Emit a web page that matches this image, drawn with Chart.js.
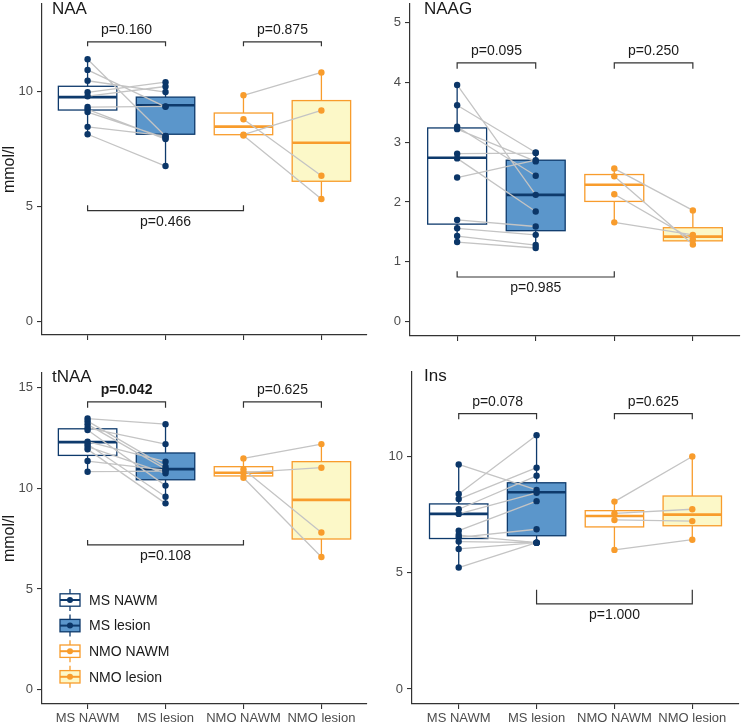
<!DOCTYPE html>
<html>
<head>
<meta charset="utf-8">
<script src="https://cdn.jsdelivr.net/npm/chart.js@4"></script>
<style>
  body { margin: 0; background: #fff; }
  #wrap { position: relative; width: 744px; height: 722px; }
  .panel { position: absolute; }
</style>
</head>
<body>
<div id="wrap">
  <div class="panel" style="left:0;top:0;width:372px;height:350px"><canvas id="c1"></canvas></div>
  <div class="panel" style="left:372px;top:0;width:372px;height:350px"><canvas id="c2"></canvas></div>
  <div class="panel" style="left:0;top:350px;width:372px;height:372px"><canvas id="c3"></canvas></div>
  <div class="panel" style="left:372px;top:350px;width:372px;height:372px"><canvas id="c4"></canvas></div>
</div>
<script>
const grupos = ["MS NAWM", "MS lesion", "NMO NAWM", "NMO lesion"]
const metabolitos = ["NAA", "NAAG", "tNAA", "Ins"]

// valores por paciente, mismo orden en NAWM y lesion (se unen con lineas)
const naaMsNawm = [11.39, 10.93, 10.46, 9.96, 9.79, 9.32, 9.22, 9.10, 8.46, 8.14]
const naaMsLesion = [8.05, 9.33, 9.97, 10.40, 10.21, 9.35, 7.93, 7.98, 8.07, 6.76]
const naaNmoNawm = [9.83, 8.79, 8.12, 8.08]
const naaNmoLesion = [10.82, 6.34, 9.17, 5.33]
// [min, q1, mediana, q3, max] de cada grupo
const naaCajas = [[8.14, 9.19, 9.75, 10.22, 11.39], [6.76, 8.14, 9.40, 9.75, 10.40], [8.08, 8.12, 8.47, 9.06, 9.83], [5.33, 6.10, 7.77, 9.60, 10.82]]
const naaPvalores = ["p=0.160", "p=0.875", "p=0.466"]
const naaBrackets = [[0, 1, 12.15, 11.96], [2, 3, 12.15, 11.96], [0, 2, 4.83, 5.06]]

const naagMsNawm = [3.96, 3.62, 3.26, 3.22, 2.81, 2.73, 2.41, 1.70, 1.56, 1.43, 1.33]
const naagMsLesion = [2.12, 2.83, 2.44, 2.68, 2.82, 1.84, 2.70, 1.59, 1.45, 1.28, 1.23]
const naagNmoNawm = [2.56, 2.43, 2.13, 1.66]
const naagNmoLesion = [1.86, 1.29, 1.37, 1.45]
const naagCajas = [[1.33, 1.63, 2.74, 3.24, 3.96], [1.23, 1.52, 2.12, 2.70, 2.83], [1.64, 2.01, 2.29, 2.46, 2.56], [1.29, 1.35, 1.42, 1.57, 1.86]]
const naagPvalores = ["p=0.095", "p=0.250", "p=0.985"]
const naagBrackets = [[0, 1, 4.33, 4.23], [2, 3, 4.33, 4.23], [0, 2, 0.745, 0.84]]

const tnaaMsNawm = [13.46, 13.33, 13.17, 13.00, 12.89, 12.31, 12.18, 12.06, 11.93, 11.35, 10.82]
const tnaaMsLesion = [13.18, 11.07, 10.95, 12.19, 10.13, 11.32, 9.58, 10.74, 9.25, 10.90, 10.85]
const tnaaNmoNawm = [11.48, 10.77, 10.94, 10.52]
const tnaaNmoLesion = [12.19, 11.02, 7.80, 6.59]
const tnaaCajas = [[10.82, 11.63, 12.29, 12.95, 13.46], [9.25, 10.42, 10.95, 11.75, 13.18], [10.52, 10.61, 10.77, 11.07, 11.48], [6.59, 7.48, 9.42, 11.32, 12.19]]
const tnaaPvalores = ["p=0.042", "p=0.625", "p=0.108"]
const tnaaBrackets = [[0, 1, 14.29, 14.0], [2, 3, 14.29, 14.0], [0, 2, 7.19, 7.43]]

const insMsNawm = [9.67, 8.40, 8.18, 7.74, 7.54, 6.82, 6.63, 6.53, 6.35, 6.03, 5.23]
const insMsLesion = [8.57, 10.93, 9.53, 9.18, 8.45, 8.09, 6.30, 6.88, 6.30, 6.30, 6.30]
const insNmoNawm = [8.07, 7.56, 7.28, 5.99]
const insNmoLesion = [10.01, 7.74, 7.23, 6.43]
const insCajas = [[5.23, 6.48, 7.54, 7.97, 9.67], [6.30, 6.60, 8.47, 8.88, 10.93], [5.99, 6.98, 7.45, 7.68, 8.07], [6.43, 7.03, 7.51, 8.31, 10.01]]
const insPvalores = ["p=0.078", "p=0.625", "p=1.000"]
const insBrackets = [[0, 1, 11.86, 11.62], [2, 3, 11.86, 11.62], [1, 3, 3.67, 4.27]]

const bordes = ["#0e3a6c", "#0e3a6c", "#f89c2c", "#f89c2c"]
const rellenos = ["#ffffff", "#5b96cb", "#ffffff", "#fcf8c8"]
const colorPuntos = ["#0b3668", "#0b3668", "#f89c2c", "#f89c2c"]
const fuente = "'Liberation Sans', Arial, sans-serif"

Chart.defaults.font.family = fuente

function pares(a, b, xa, xb) {
  const out = []
  a.forEach((v, i) => {
    out.push({ x: xa, y: v }, { x: xb, y: b[i] }, { x: (xa + xb) / 2, y: null })
  })
  return out
}

function dibujarCaja(ctx, x, y, c, i) {
  const cx = x.getPixelForValue(i)
  const w = x.getPixelForValue(0.375) - x.getPixelForValue(0)
  const [lo, q1, med, q3, hi] = c.map(v => y.getPixelForValue(v))
  ctx.save()
  ctx.strokeStyle = bordes[i]
  ctx.lineWidth = 1.3
  ctx.beginPath()
  ctx.moveTo(cx, lo); ctx.lineTo(cx, q1)
  ctx.moveTo(cx, q3); ctx.lineTo(cx, hi)
  ctx.stroke()
  ctx.fillStyle = rellenos[i]
  ctx.fillRect(cx - w, q3, 2 * w, q1 - q3)
  ctx.strokeRect(cx - w, q3, 2 * w, q1 - q3)
  ctx.lineWidth = 2.6
  ctx.beginPath()
  ctx.moveTo(cx - w, med); ctx.lineTo(cx + w, med)
  ctx.stroke()
  ctx.restore()
}

function dibujarLeyenda(ctx) {
  const y0 = 250, paso = 25.6
  grupos.forEach((g, i) => {
    const cy = y0 + i * paso
    ctx.save()
    ctx.strokeStyle = bordes[i]
    ctx.lineWidth = 1.3
    ctx.beginPath(); ctx.moveTo(70, cy - 11); ctx.lineTo(70, cy + 11); ctx.stroke()
    ctx.fillStyle = rellenos[i]
    ctx.fillRect(60, cy - 6.2, 20, 12.4)
    ctx.strokeRect(60, cy - 6.2, 20, 12.4)
    ctx.lineWidth = 2
    ctx.beginPath(); ctx.moveTo(60, cy); ctx.lineTo(80, cy); ctx.stroke()
    ctx.fillStyle = colorPuntos[i]
    ctx.beginPath(); ctx.arc(70, cy, 3, 0, Math.PI * 2); ctx.fill()
    ctx.fillStyle = "#1a1a1a"
    ctx.font = "14px " + fuente
    ctx.textAlign = "left"
    ctx.textBaseline = "middle"
    ctx.fillText(g, 89, cy + 1)
    ctx.restore()
  })
}

function crearPanel(id, p) {
  const plugin = {
    id: "cajas" + id,
    beforeDatasetsDraw(chart) {
      const { ctx, scales: { x, y } } = chart
      p.cajas.forEach((c, i) => dibujarCaja(ctx, x, y, c, i))
    },
    afterDraw(chart) {
      const { ctx, scales: { x, y } } = chart
      ctx.save()
      p.brackets.forEach((b, k) => {
        const x1 = x.getPixelForValue(b[0]), x2 = x.getPixelForValue(b[1])
        const yb = y.getPixelForValue(b[2]), yt = y.getPixelForValue(b[3])
        ctx.strokeStyle = "#333"
        ctx.lineWidth = 1.2
        ctx.beginPath()
        ctx.moveTo(x1, yt); ctx.lineTo(x1, yb); ctx.lineTo(x2, yb); ctx.lineTo(x2, yt)
        ctx.stroke()
        const valor = parseFloat(p.pvalores[k].slice(2))
        ctx.font = (valor < 0.05 ? "bold " : "") + "14px " + fuente
        ctx.fillStyle = "#1a1a1a"
        ctx.textAlign = "center"
        ctx.textBaseline = "alphabetic"
        const abajo = b[3] > b[2]
        ctx.fillText(p.pvalores[k], (x1 + x2) / 2, abajo ? yb + 15.5 : yb - 7.5)
      })
      ctx.font = "17px " + fuente
      ctx.fillStyle = "#1a1a1a"
      ctx.textAlign = "left"
      ctx.fillText(p.titulo, 52, p.tituloY)
      ctx.restore()
      if (p.leyenda) dibujarLeyenda(ctx)
    }
  }

  const datasets = [
    [p.msNawm, 0], [p.msLesion, 1], [p.nmoNawm, 2], [p.nmoLesion, 3]
  ].map(([vals, i]) => ({
    type: "scatter",
    data: vals.map(v => ({ x: i, y: v })),
    backgroundColor: colorPuntos[i],
    borderWidth: 0,
    pointRadius: 3.2,
    order: 1
  }))
  datasets.push({
    type: "line",
    data: pares(p.msNawm, p.msLesion, 0, 1).concat(pares(p.nmoNawm, p.nmoLesion, 2, 3)),
    borderColor: "#c4c4c4",
    borderWidth: 1.3,
    pointRadius: 0,
    spanGaps: false,
    order: 2
  })

  new Chart(document.getElementById(id), {
    type: "scatter",
    data: { datasets },
    options: {
      responsive: true,
      maintainAspectRatio: false,
      animation: false,
      layout: { padding: { top: p.arriba, right: p.derecha, left: 0, bottom: 0 } },
      plugins: { legend: { display: false }, tooltip: { enabled: false } },
      scales: {
        x: {
          type: "linear",
          min: p.xMin,
          max: p.xMax,
          afterBuildTicks: s => { s.ticks = [0, 1, 2, 3].map(v => ({ value: v })) },
          afterFit: s => { s.height = p.altoX; s.paddingLeft = 0; s.paddingRight = 0 },
          ticks: {
            callback: v => grupos[v],
            color: p.etiquetasX ? "#4d4d4d" : "rgba(0,0,0,0)",
            font: { size: 13 },
            padding: 2,
            maxRotation: 0,
            autoSkip: false
          },
          grid: { drawOnChartArea: false, tickLength: 5, color: "#333", lineWidth: 1.1 },
          border: { color: "#333", width: 1.2 }
        },
        y: {
          type: "linear",
          min: p.yMin,
          max: p.yMax,
          afterBuildTicks: s => { s.ticks = p.yTicks.map(v => ({ value: v })) },
          afterFit: s => { s.width = p.anchoY; s.paddingTop = 0; s.paddingBottom = 0 },
          ticks: { color: "#4d4d4d", font: { size: 13 }, padding: 4 },
          grid: { drawOnChartArea: false, tickLength: 5, color: "#333", lineWidth: 1.1 },
          border: { color: "#333", width: 1.2 },
          title: {
            display: p.tituloEje,
            text: "mmol/l",
            color: "#1a1a1a",
            font: { size: 16 },
            padding: { top: 0, bottom: 0 }
          }
        }
      }
    },
    plugins: [plugin]
  })
}

crearPanel("c1", {
  titulo: metabolitos[0], msNawm: naaMsNawm, msLesion: naaMsLesion, nmoNawm: naaNmoNawm, nmoLesion: naaNmoLesion,
  cajas: naaCajas, pvalores: naaPvalores, brackets: naaBrackets, yTicks: [0, 5, 10],
  yMin: -0.57, yMax: 13.79, xMin: -0.585, xMax: 3.585,
  arriba: 0, derecha: 5, anchoY: 42, altoX: 15, etiquetasX: false, tituloEje: true, tituloY: 13.5
})
crearPanel("c2", {
  titulo: metabolitos[1], msNawm: naagMsNawm, msLesion: naagMsLesion, nmoNawm: naagNmoNawm, nmoLesion: naagNmoLesion,
  cajas: naagCajas, pvalores: naagPvalores, brackets: naagBrackets, yTicks: [0, 1, 2, 3, 4, 5],
  yMin: -0.243, yMax: 5.315, xMin: -0.6, xMax: 3.6,
  arriba: 0, derecha: 3, anchoY: 38, altoX: 14, etiquetasX: false, tituloEje: false, tituloY: 13.5
})
crearPanel("c3", {
  titulo: metabolitos[2], msNawm: tnaaMsNawm, msLesion: tnaaMsLesion, nmoNawm: tnaaNmoNawm, nmoLesion: tnaaNmoLesion,
  cajas: tnaaCajas, pvalores: tnaaPvalores, brackets: tnaaBrackets, yTicks: [0, 5, 10, 15],
  yMin: -0.71, yMax: 15.72, xMin: -0.585, xMax: 3.585,
  arriba: 23, derecha: 5, anchoY: 42, altoX: 18, etiquetasX: true, tituloEje: true, tituloY: 31.5, leyenda: true
})
crearPanel("c4", {
  titulo: metabolitos[3], msNawm: insMsNawm, msLesion: insMsLesion, nmoNawm: insNmoNawm, nmoLesion: insNmoLesion,
  cajas: insCajas, pvalores: insPvalores, brackets: insBrackets, yTicks: [0, 5, 10],
  yMin: -0.645, yMax: 13.65, xMin: -0.6, xMax: 3.6,
  arriba: 22, derecha: 5, anchoY: 40, altoX: 18, etiquetasX: true, tituloEje: false, tituloY: 30.5
})
</script>
</body>
</html>
